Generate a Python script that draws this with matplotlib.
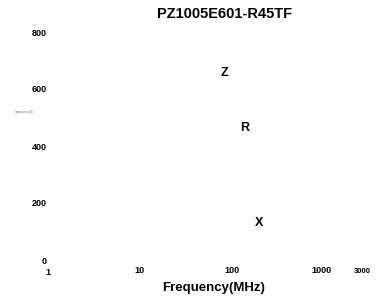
import matplotlib
matplotlib.use('Agg')
import matplotlib.pyplot as plt
import matplotlib.transforms as mtransforms

plt.rcParams['font.family'] = ['Liberation Sans', 'DejaVu Sans']

# chart data
title = 'PZ1005E601-R45TF'
x_ticks = [1, 10, 100, 1000, 3000]
x_tick_labels = ['1', '10', '100', '1000', '3000']
y_ticks = [0, 200, 400, 600, 800]
curve_names = ['Z', 'R', 'X']
curve_freq = [81, 139, 200]      # MHz, where each curve name sits
curve_value = [656, 463, 130]    # ohm


def main():
    fig = plt.figure(figsize=(3.81, 3.0), dpi=100)
    # axes: x=1 at px 53.75, x=3000 at px 364; y=0 at px 260, y=800 at px 32
    ax = fig.add_axes([53.75 / 381, 40 / 300, 310.25 / 381, 228 / 300])
    ax.set_xscale('log')
    ax.set_xlim(1, 3000)
    ax.set_ylim(0, 800)
    for s in ax.spines.values():
        s.set_visible(False)

    ax.set_xticks(x_ticks)
    ax.set_xticklabels(x_tick_labels)
    ax.minorticks_off()
    ax.set_yticks(y_ticks)
    ax.tick_params(length=0, labelsize=6.5)
    ax.tick_params(axis='x', pad=4.5)
    ax.tick_params(axis='y', pad=5)
    for lab in ax.get_xticklabels() + ax.get_yticklabels():
        lab.set_fontweight('bold')
    labs = ax.get_xticklabels()
    labs[0].set_transform(labs[0].get_transform() +
                          mtransforms.ScaledTranslation(-6 / 100, -2 / 100, fig.dpi_scale_trans))
    labs[1].set_transform(labs[1].get_transform() +
                          mtransforms.ScaledTranslation(-3 / 100, 0, fig.dpi_scale_trans))
    labs[-1].set_fontsize(5.5)
    labs[-1].set_transform(labs[-1].get_transform() +
                           mtransforms.ScaledTranslation(-2 / 100, -1.5 / 100, fig.dpi_scale_trans))

    for name, f, v in zip(curve_names, curve_freq, curve_value):
        ax.text(f, v, name, fontsize=9, fontweight='bold', ha='center', va='center')

    ax.set_title(title, fontsize=10.5, fontweight='bold', x=0.552, pad=10)
    ax.set_xlabel('Frequency(MHz)', fontsize=9.5, fontweight='bold')
    ax.xaxis.set_label_coords(0.515, -0.0965)
    fig.text(15 / 381, 1 - 112 / 300, 'Impedance(Ω)', fontsize=2.2, color='#777777',
             va='center', ha='left')

    fig.savefig('out.png', dpi=100)


if __name__ == '__main__':
    main()
